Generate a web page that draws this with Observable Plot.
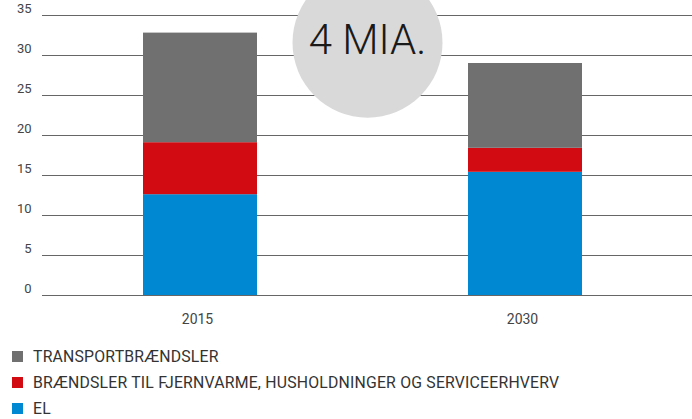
<!DOCTYPE html>
<html>
<head>
<meta charset="utf-8">
<script src="https://cdn.jsdelivr.net/npm/d3@7"></script>
<script src="https://cdn.jsdelivr.net/npm/@observablehq/plot@0.6"></script>
<style>
  html, body { margin: 0; padding: 0; background: #fff; }
  body { width: 692px; height: 419px; overflow: hidden; font-family: Roboto, "Noto Sans", sans-serif; }
  #legend { margin-top: 8px; }
  .row { display: flex; align-items: center; height: 26px; padding-left: 12px; color: #333; font-size: 15.8px; letter-spacing: 0.2px; }
  .sw { width: 11px; height: 11px; margin-right: 10px; flex: none; }
</style>
</head>
<body>
<div id="chart"></div>
<div id="legend"></div>
<script>
const years = ["2015", "2030"];
const series = ["EL", "BRÆNDSLER TIL FJERNVARME, HUSHOLDNINGER OG SERVICEERHVERV", "TRANSPORTBRÆNDSLER"];
const elValues = [12.6, 15.4];
const fjernvarmeValues = [6.5, 3.0];
const transportValues = [13.7, 10.6];
const colors = ["#0089d2", "#d20a11", "#707070"];
const yTicks = [0, 5, 10, 15, 20, 25, 30, 35];
const legendOrder = [2, 1, 0];
const bubbleLabel = "4 MIA.";
const bubbleY = 31.6;

const valuesBySeries = [elValues, fjernvarmeValues, transportValues];
const data = [];
series.forEach((s, i) => years.forEach((yr, j) => data.push({year: yr, series: s, value: valuesBySeries[i][j]})));

const chart = Plot.plot({
  width: 692,
  height: 335,
  marginTop: 15,
  marginBottom: 40,
  marginLeft: 42,
  marginRight: 0,
  style: {fontFamily: "Roboto, sans-serif", fontSize: "13px", color: "#444", background: "white"},
  x: {domain: years, range: [42, 682], paddingInner: 0.65, paddingOuter: 0.307, label: null},
  y: {domain: [0, 35], label: null},
  color: {domain: series, range: colors},
  marks: [
    Plot.ruleY(yTicks, {stroke: "#666", strokeWidth: 1}),
    Plot.dot([bubbleY], {y: d => d, r: 75, fill: "#d9d9d9", stroke: "none", frameAnchor: "middle"}),
    Plot.text([bubbleLabel], {y: () => bubbleY, text: d => d, frameAnchor: "middle", fontSize: 42, fontWeight: 300, fill: "#1a1a1a", dy: -2}),
    Plot.barY(data, {x: "year", y: "value", fill: "series", order: series}),
    Plot.axisY({ticks: yTicks, tickSize: 0, tickPadding: 11, dy: -7, fontSize: 13, fill: "#444"}),
    Plot.axisX({tickSize: 0, tickPadding: 19, fontSize: 14, fill: "#444", dx: -3})
  ]
});
document.getElementById("chart").appendChild(chart);

const legend = document.getElementById("legend");
legendOrder.forEach(i => {
  const row = document.createElement("div");
  row.className = "row";
  const sw = document.createElement("span");
  sw.className = "sw";
  sw.style.background = colors[i];
  const label = document.createElement("span");
  label.textContent = series[i];
  row.appendChild(sw);
  row.appendChild(label);
  legend.appendChild(row);
});
</script>
</body>
</html>
